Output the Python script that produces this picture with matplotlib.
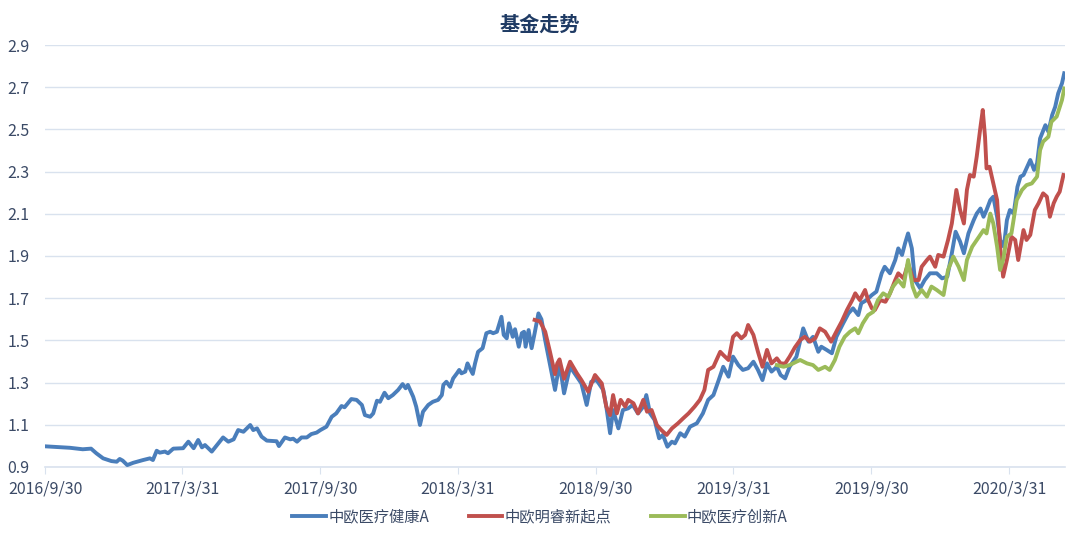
import matplotlib
matplotlib.use("Agg")
import matplotlib.pyplot as plt
import pandas as pd

plt.rcParams['font.family'] = ['Noto Sans CJK SC', 'DejaVu Sans']

# 中欧医疗健康A
health_dates = [
    "2016-09-30", "2016-11-02", "2016-11-19", "2016-11-30", "2016-12-07", "2016-12-16",
    "2016-12-27", "2017-01-03", "2017-01-07", "2017-01-11", "2017-01-17", "2017-01-25",
    "2017-02-07", "2017-02-16", "2017-02-20", "2017-02-25", "2017-03-01", "2017-03-08",
    "2017-03-12", "2017-03-19", "2017-04-01", "2017-04-08", "2017-04-15", "2017-04-21",
    "2017-04-26", "2017-04-30", "2017-05-09", "2017-05-16", "2017-05-24", "2017-05-31",
    "2017-06-07", "2017-06-13", "2017-06-20", "2017-06-29", "2017-07-03", "2017-07-08",
    "2017-07-14", "2017-07-21", "2017-08-03", "2017-08-06", "2017-08-14", "2017-08-21",
    "2017-08-25", "2017-08-30", "2017-09-05", "2017-09-12", "2017-09-18", "2017-09-25",
    "2017-09-30", "2017-10-08", "2017-10-15", "2017-10-21", "2017-10-28", "2017-11-01",
    "2017-11-10", "2017-11-17", "2017-11-24", "2017-11-28", "2017-12-05", "2017-12-09",
    "2017-12-14", "2017-12-18", "2017-12-24", "2017-12-29", "2018-01-04", "2018-01-11",
    "2018-01-17", "2018-01-21", "2018-01-24", "2018-01-31", "2018-02-04", "2018-02-09",
    "2018-02-13", "2018-02-20", "2018-02-26", "2018-03-05", "2018-03-10", "2018-03-12",
    "2018-03-16", "2018-03-21", "2018-03-25", "2018-03-30", "2018-04-02", "2018-04-05",
    "2018-04-10", "2018-04-13", "2018-04-16", "2018-04-20", "2018-04-23", "2018-04-27",
    "2018-05-03", "2018-05-08", "2018-05-13", "2018-05-17", "2018-05-22", "2018-05-28",
    "2018-05-31", "2018-06-04", "2018-06-07", "2018-06-12", "2018-06-15", "2018-06-20",
    "2018-06-24", "2018-06-27", "2018-06-29", "2018-07-03", "2018-07-07", "2018-07-11",
    "2018-07-16", "2018-07-20", "2018-07-25", "2018-07-31", "2018-08-07", "2018-08-13",
    "2018-08-19", "2018-08-27", "2018-09-05", "2018-09-11", "2018-09-18", "2018-09-24",
    "2018-10-01", "2018-10-10", "2018-10-14", "2018-10-19", "2018-10-23", "2018-10-30",
    "2018-11-05", "2018-11-12", "2018-11-18", "2018-11-25", "2018-12-02", "2018-12-06",
    "2018-12-11", "2018-12-17", "2018-12-23", "2018-12-28", "2019-01-03", "2019-01-09",
    "2019-01-13", "2019-01-20", "2019-01-26", "2019-02-02", "2019-02-11", "2019-02-19",
    "2019-02-26", "2019-03-05", "2019-03-12", "2019-03-18", "2019-03-25", "2019-03-31",
    "2019-04-07", "2019-04-13", "2019-04-20", "2019-04-27", "2019-05-03", "2019-05-09",
    "2019-05-15", "2019-05-21", "2019-05-28", "2019-06-02", "2019-06-08", "2019-06-14",
    "2019-06-23", "2019-07-02", "2019-07-09", "2019-07-15", "2019-07-22", "2019-07-26",
    "2019-08-02", "2019-08-09", "2019-08-15", "2019-08-24", "2019-08-31", "2019-09-06",
    "2019-09-13", "2019-09-17", "2019-09-24", "2019-10-01", "2019-10-07", "2019-10-14",
    "2019-10-18", "2019-10-25", "2019-11-01", "2019-11-05", "2019-11-10", "2019-11-14",
    "2019-11-18", "2019-11-23", "2019-11-27", "2019-12-04", "2019-12-10", "2019-12-17",
    "2019-12-26", "2020-01-02", "2020-01-09", "2020-01-15", "2020-01-20", "2020-01-26",
    "2020-01-31", "2020-02-06", "2020-02-13", "2020-02-17", "2020-02-22", "2020-02-26",
    "2020-03-01", "2020-03-06", "2020-03-10", "2020-03-15", "2020-03-19", "2020-03-24",
    "2020-03-28", "2020-04-01", "2020-04-06", "2020-04-11", "2020-04-15", "2020-04-19",
    "2020-04-24", "2020-04-28", "2020-05-03", "2020-05-07", "2020-05-11", "2020-05-18",
    "2020-05-22", "2020-05-27", "2020-05-31", "2020-06-04", "2020-06-09", "2020-06-12",
]
health_nav = [
    0.998, 0.991, 0.984, 0.987, 0.965, 0.941,
    0.928, 0.925, 0.938, 0.930, 0.909, 0.920,
    0.933, 0.941, 0.933, 0.977, 0.968, 0.973,
    0.965, 0.987, 0.989, 1.020, 0.989, 1.028,
    0.993, 1.004, 0.973, 1.004, 1.040, 1.020,
    1.031, 1.075, 1.067, 1.099, 1.075, 1.083,
    1.044, 1.025, 1.022, 0.999, 1.040, 1.031,
    1.034, 1.020, 1.040, 1.040, 1.056, 1.063,
    1.075, 1.091, 1.138, 1.154, 1.189, 1.183,
    1.222, 1.218, 1.194, 1.146, 1.138, 1.154,
    1.214, 1.209, 1.252, 1.226, 1.241, 1.265,
    1.293, 1.273, 1.289, 1.233, 1.186, 1.099,
    1.162, 1.194, 1.209, 1.218, 1.241, 1.289,
    1.304, 1.280, 1.320, 1.344, 1.360, 1.344,
    1.352, 1.391, 1.368, 1.341, 1.391, 1.446,
    1.463, 1.534, 1.541, 1.534, 1.541, 1.612,
    1.526, 1.510, 1.581, 1.517, 1.553, 1.470,
    1.534, 1.541, 1.470, 1.549, 1.463, 1.534,
    1.628, 1.600, 1.500, 1.391, 1.265, 1.391,
    1.249, 1.375, 1.328, 1.296, 1.194, 1.304,
    1.312, 1.265, 1.186, 1.060, 1.170, 1.083,
    1.170, 1.178, 1.194, 1.154, 1.186, 1.241,
    1.154, 1.123, 1.036, 1.052, 0.996, 1.020,
    1.012, 1.060, 1.044, 1.091, 1.107, 1.154,
    1.218, 1.241, 1.312, 1.375, 1.328, 1.423,
    1.383, 1.360, 1.368, 1.399, 1.360, 1.312,
    1.391, 1.352, 1.375, 1.336, 1.320, 1.375,
    1.423, 1.557, 1.494, 1.517, 1.446, 1.470,
    1.455, 1.439, 1.517, 1.581, 1.628, 1.652,
    1.620, 1.676, 1.691, 1.715, 1.731, 1.818,
    1.849, 1.818, 1.881, 1.936, 1.905, 1.960,
    2.007, 1.936, 1.786, 1.747, 1.786, 1.818,
    1.818, 1.794, 1.802, 1.913, 2.015, 1.968,
    1.913, 2.007, 2.070, 2.101, 2.125, 2.086,
    2.118, 2.165, 2.181, 2.086, 1.976, 1.944,
    2.070, 2.118, 2.101, 2.228, 2.276, 2.284,
    2.323, 2.355, 2.308, 2.339, 2.457, 2.520,
    2.489, 2.568, 2.607, 2.671, 2.718, 2.766,
]

# 中欧明睿新起点
mingrui_dates = [
    "2018-07-11", "2018-07-18", "2018-07-25", "2018-07-31", "2018-08-07", "2018-08-10",
    "2018-08-13", "2018-08-19", "2018-08-27", "2018-09-05", "2018-09-11", "2018-09-20",
    "2018-09-29", "2018-10-08", "2018-10-14", "2018-10-19", "2018-10-23", "2018-10-28",
    "2018-11-02", "2018-11-08", "2018-11-12", "2018-11-19", "2018-11-25", "2018-12-02",
    "2018-12-07", "2018-12-13", "2018-12-20", "2018-12-26", "2019-01-02", "2019-01-09",
    "2019-01-17", "2019-01-24", "2019-01-31", "2019-02-08", "2019-02-15", "2019-02-21",
    "2019-02-26", "2019-03-05", "2019-03-09", "2019-03-14", "2019-03-18", "2019-03-25",
    "2019-03-31", "2019-04-05", "2019-04-11", "2019-04-16", "2019-04-20", "2019-04-27",
    "2019-05-03", "2019-05-09", "2019-05-15", "2019-05-21", "2019-05-28", "2019-06-02",
    "2019-06-08", "2019-06-14", "2019-06-21", "2019-06-28", "2019-07-04", "2019-07-11",
    "2019-07-18", "2019-07-24", "2019-07-31", "2019-08-08", "2019-08-16", "2019-08-22",
    "2019-08-29", "2019-09-05", "2019-09-09", "2019-09-15", "2019-09-22", "2019-09-26",
    "2019-10-01", "2019-10-05", "2019-10-12", "2019-10-19", "2019-10-25", "2019-11-01",
    "2019-11-05", "2019-11-12", "2019-11-18", "2019-11-25", "2019-12-02", "2019-12-06",
    "2019-12-13", "2019-12-17", "2019-12-24", "2019-12-28", "2020-01-04", "2020-01-10",
    "2020-01-15", "2020-01-21", "2020-01-26", "2020-01-31", "2020-02-04", "2020-02-08",
    "2020-02-13", "2020-02-17", "2020-02-22", "2020-02-25", "2020-02-28", "2020-03-01",
    "2020-03-05", "2020-03-10", "2020-03-15", "2020-03-19", "2020-03-23", "2020-03-28",
    "2020-04-03", "2020-04-08", "2020-04-12", "2020-04-19", "2020-04-23", "2020-04-28",
    "2020-05-04", "2020-05-09", "2020-05-15", "2020-05-20", "2020-05-24", "2020-05-29",
    "2020-06-02", "2020-06-06", "2020-06-11",
]
mingrui_nav = [
    1.597, 1.590, 1.541, 1.451, 1.340, 1.391,
    1.410, 1.318, 1.399, 1.344, 1.312, 1.257,
    1.336, 1.296, 1.186, 1.146, 1.241, 1.154,
    1.218, 1.186, 1.218, 1.202, 1.154, 1.218,
    1.162, 1.170, 1.099, 1.075, 1.052, 1.083,
    1.107, 1.131, 1.154, 1.186, 1.218, 1.265,
    1.360, 1.375, 1.407, 1.446, 1.431, 1.407,
    1.517, 1.534, 1.510, 1.526, 1.573, 1.526,
    1.446, 1.375, 1.455, 1.391, 1.415, 1.391,
    1.390, 1.423, 1.467, 1.502, 1.517, 1.494,
    1.510, 1.557, 1.541, 1.494, 1.549, 1.589,
    1.644, 1.691, 1.723, 1.691, 1.739, 1.691,
    1.652, 1.644, 1.691, 1.683, 1.723, 1.786,
    1.818, 1.794, 1.865, 1.786, 1.786, 1.849,
    1.881, 1.897, 1.849, 1.905, 1.897, 1.976,
    2.054, 2.213, 2.118, 2.054, 2.213, 2.284,
    2.276, 2.371, 2.513, 2.592, 2.465, 2.315,
    2.323, 2.244, 2.165, 1.944, 1.802, 1.881,
    1.991, 1.976, 1.881, 2.023, 1.976, 2.000,
    2.118, 2.150, 2.197, 2.181, 2.086, 2.150,
    2.181, 2.205, 2.284,
]

# 中欧医疗创新A
innov_dates = [
    "2019-05-28", "2019-06-06", "2019-06-14", "2019-06-23", "2019-06-28", "2019-07-07",
    "2019-07-15", "2019-07-22", "2019-07-31", "2019-08-06", "2019-08-13", "2019-08-19",
    "2019-08-26", "2019-09-02", "2019-09-09", "2019-09-13", "2019-09-19", "2019-09-26",
    "2019-10-03", "2019-10-09", "2019-10-16", "2019-10-23", "2019-10-29", "2019-11-05",
    "2019-11-12", "2019-11-18", "2019-11-24", "2019-11-29", "2019-12-06", "2019-12-13",
    "2019-12-19", "2019-12-26", "2020-01-04", "2020-01-10", "2020-01-17", "2020-01-24",
    "2020-01-31", "2020-02-04", "2020-02-11", "2020-02-20", "2020-02-26", "2020-03-01",
    "2020-03-06", "2020-03-10", "2020-03-15", "2020-03-19", "2020-03-23", "2020-03-28",
    "2020-04-03", "2020-04-10", "2020-04-17", "2020-04-23", "2020-04-30", "2020-05-07",
    "2020-05-11", "2020-05-15", "2020-05-22", "2020-05-26", "2020-06-02", "2020-06-09",
    "2020-06-12",
]
innov_nav = [
    1.383, 1.375, 1.383, 1.399, 1.407, 1.391,
    1.383, 1.360, 1.375, 1.360, 1.407, 1.470,
    1.517, 1.541, 1.557, 1.534, 1.581, 1.620,
    1.636, 1.691, 1.723, 1.707, 1.755, 1.786,
    1.755, 1.881, 1.755, 1.707, 1.739, 1.707,
    1.755, 1.739, 1.715, 1.834, 1.897, 1.849,
    1.786, 1.881, 1.944, 1.991, 2.023, 2.007,
    2.101, 2.054, 1.944, 1.834, 1.881, 1.991,
    2.007, 2.165, 2.213, 2.236, 2.244, 2.276,
    2.402, 2.442, 2.465, 2.536, 2.561, 2.639,
    2.694,
]

tick_dates = ["2016-09-30", "2017-03-31", "2017-09-30", "2018-03-31",
              "2018-09-30", "2019-03-31", "2019-09-30", "2020-03-31"]
tick_labels = ["2016/9/30", "2017/3/31", "2017/9/30", "2018/3/31",
               "2018/9/30", "2019/3/31", "2019/9/30", "2020/3/31"]
y_ticks = [0.9, 1.1, 1.3, 1.5, 1.7, 1.9, 2.1, 2.3, 2.5, 2.7, 2.9]

grid_c = "#D9E2EE"
text_c = "#3B4A66"

fig = plt.figure(figsize=(10.8, 5.39), dpi=100)
ax = fig.add_axes([0.0417, 0.1336, 0.9444, 0.7829])

ax.plot(pd.to_datetime(health_dates), health_nav, color="#4A7EBB", lw=2.8,
        label="中欧医疗健康A", zorder=3, solid_joinstyle="round")
ax.plot(pd.to_datetime(mingrui_dates), mingrui_nav, color="#C0504D", lw=2.8,
        label="中欧明睿新起点", zorder=4, solid_joinstyle="round")
ax.plot(pd.to_datetime(innov_dates), innov_nav, color="#9BBB59", lw=2.8,
        label="中欧医疗创新A", zorder=5, solid_joinstyle="round")

ax.set_ylim(0.9, 2.9)
ax.set_yticks(y_ticks)
ax.set_yticklabels([f"{v:.1f}" for v in y_ticks])
ax.set_xlim(pd.Timestamp("2016-09-30"), pd.Timestamp("2020-06-13"))
ax.set_xticks(pd.to_datetime(tick_dates))
ax.set_xticklabels(tick_labels)

ax.grid(axis="y", color=grid_c, lw=1)
for s in ["top", "right", "left"]:
    ax.spines[s].set_visible(False)
ax.spines["bottom"].set_color(grid_c)
ax.spines["bottom"].set_linewidth(1.2)
ax.tick_params(axis="y", length=0, pad=11, labelsize=11.5, labelcolor=text_c)
ax.tick_params(axis="x", length=5, color=grid_c, pad=5, labelsize=11.5, labelcolor=text_c)

fig.text(0.5, 0.955, "基金走势", ha="center", va="center", fontsize=14.5,
         fontweight="bold", color="#1F3B64")

fig.legend(loc="lower center", bbox_to_anchor=(0.5, 0.0), ncol=3, frameon=False,
           fontsize=11, handlelength=2.2, handletextpad=0.15, columnspacing=2.6,
           labelcolor=text_c)

fig.savefig("out.png", dpi=100)
